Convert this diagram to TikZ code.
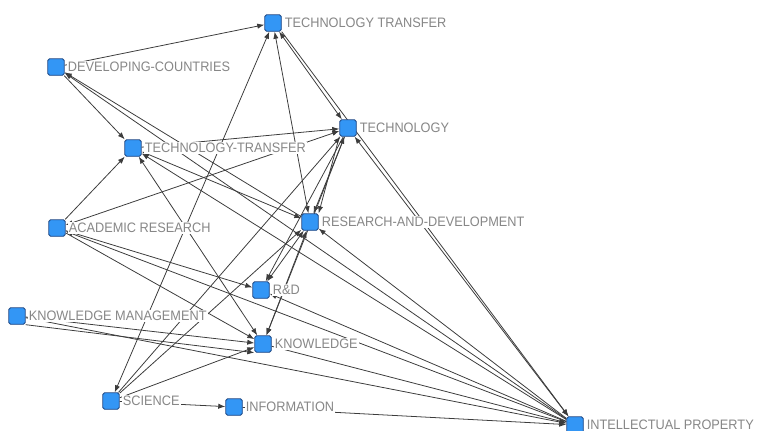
\documentclass[tikz,border=0pt]{standalone}
\usepackage{fontspec}
\newfontfamily\lblfont[FakeStretch=0.93]{Liberation Sans}
\usepackage{xcolor}
\usepackage{tikz}
\usetikzlibrary{arrows.meta, backgrounds}
\definecolor{nodeblue}{RGB}{51,150,245}
\definecolor{nodeedge}{RGB}{30,70,130}
\definecolor{lblgray}{RGB}{135,135,135}
\definecolor{edgegray}{RGB}{60,60,60}

\begin{document}
\begin{tikzpicture}[x=0.02cm,y=-0.02cm,
  vtx/.style={rectangle,rounded corners=1pt,draw=nodeedge,fill=nodeblue,line width=0.5pt,minimum size=0.33cm,inner sep=0pt},
  lbl/.style={fill=white,text=lblgray,inner sep=0.6pt,font=\lblfont\fontsize{7.8}{8}\selectfont},
  lnk/.style={edgegray,line width=0.45pt,-{Latex[length=4pt,width=3pt]}},
  lnkb/.style={edgegray,line width=0.45pt,{Latex[length=4pt,width=3pt]}-{Latex[length=4pt,width=3pt]}}]
\useasboundingbox (0,0) rectangle (758,430);
% vertices
\node[vtx,label={[lbl,label distance=1pt]0:TECHNOLOGY TRANSFER}] (tt) at (273,23) {};
\node[vtx,label={[lbl,label distance=1pt]0:DEVELOPING-COUNTRIES}] (dc) at (56,67) {};
\node[vtx,label={[lbl,label distance=1pt]0:TECHNOLOGY}] (tech) at (348,128) {};
\node[vtx,label={[lbl,label distance=1pt]0:TECHNOLOGY-TRANSFER}] (ttr) at (133,148) {};
\node[vtx,label={[lbl,label distance=1pt]0:ACADEMIC RESEARCH}] (ar) at (57,228) {};
\node[vtx,label={[lbl,label distance=1pt]0:RESEARCH-AND-DEVELOPMENT}] (rad) at (310,222) {};
\node[vtx,label={[lbl,label distance=1pt]0:R\&D}] (rd) at (261,290) {};
\node[vtx,label={[lbl,label distance=1pt]0:KNOWLEDGE MANAGEMENT}] (km) at (17,316) {};
\node[vtx,label={[lbl,label distance=1pt]0:KNOWLEDGE}] (kn) at (263,344) {};
\node[vtx,label={[lbl,label distance=1pt]0:SCIENCE}] (sci) at (111,401) {};
\node[vtx,label={[lbl,label distance=1pt]0:INFORMATION}] (info) at (234,407) {};
\node[vtx,label={[lbl,label distance=1pt]0:INTELLECTUAL PROPERTY}] (ip) at (575,425) {};
% links
\begin{scope}[on background layer]
\draw[lnk]  (dc) -- (tt);
\draw[lnkb] (sci) -- (tt);
\draw[lnkb] (tt) -- (rad);
\draw[lnkb] (tt) -- (tech);
\draw[lnk]  (tt.south east) -- (ip);
\draw[lnkb] (tech) -- (ip);
\draw[lnk]  (dc) -- (ttr);
\draw[lnk]  (rad) -- (dc);
\draw[lnk]  (ip) -- (dc);
\draw[lnk]  (ar) -- (ttr);
\draw[lnkb] (ttr) -- (kn);
\draw[lnkb] (ttr) -- (rad);
\draw[lnk]  (ip) -- (ttr);
\draw[lnk]  (ttr) -- (tech);
\draw[lnkb] (ar) -- (tech);
\draw[lnk]  (ar) -- (rd);
\draw[lnk]  (ar) -- (kn);
\draw[lnk]  (ip) -- (ar);
\draw[lnkb] (rad) -- (rd);
\draw[lnkb] (kn) -- (rad);
\draw[lnk]  (ip) -- (rd);
\draw[lnk]  (km) -- (kn);
\draw[lnk]  (km.south east) -- (kn.south west);
\draw[lnk]  (km) -- (ip);
\draw[lnk]  (sci) -- (kn);
\draw[lnk]  (kn) -- (ip);
\draw[lnkb] (tech) -- (rad);
\draw[lnk]  (tech.south west) -- (rad.north east);
\draw[lnk]  (sci) -- (rad);
\draw[lnk]  (sci) -- (tech);
\draw[lnk]  (sci) -- (info);
\draw[lnk]  (info) -- (ip);
\draw[lnk]  (ip) -- (rad);
\draw[lnk]  (tech) -- (kn);
\draw[lnk]  (tech) -- (rd);
\end{scope}
\end{tikzpicture}
\end{document}
